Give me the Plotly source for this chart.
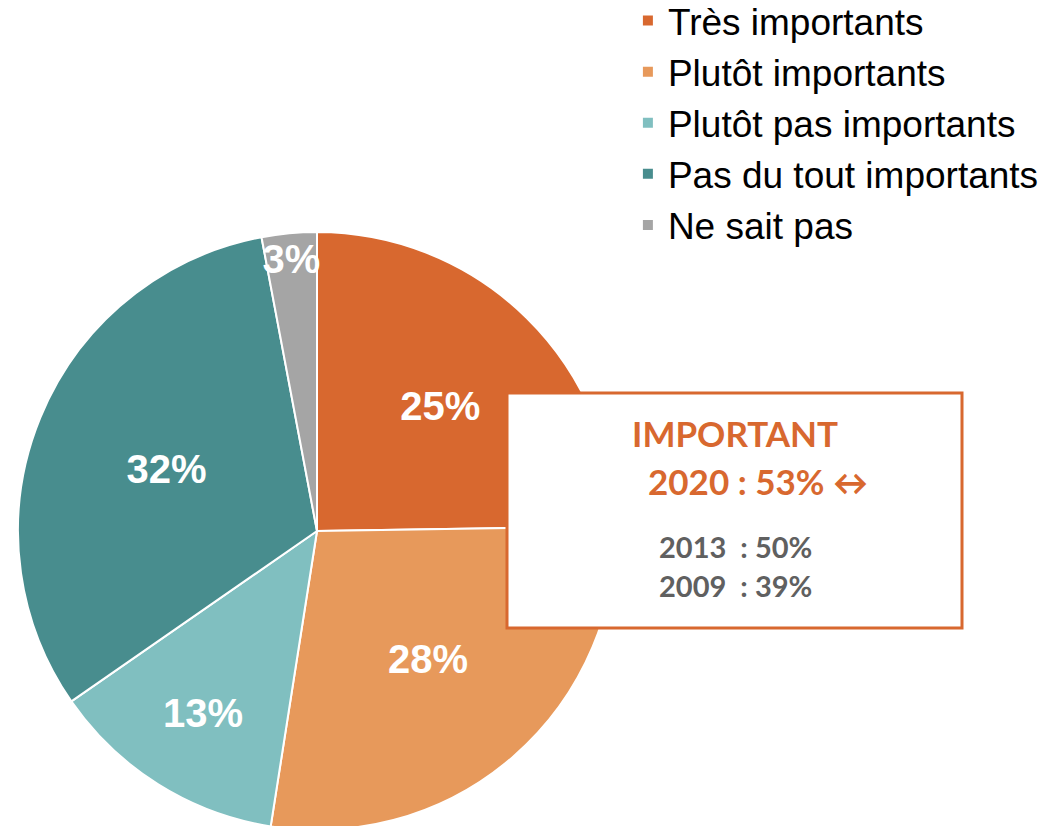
import plotly.graph_objects as go

categories = ["Très importants", "Plutôt importants", "Plutôt pas importants",
              "Pas du tout importants", "Ne sait pas"]
values = [25, 28, 13, 32, 3]
labels_txt = ["25%", "28%", "13%", "32%", "3%"]
colors = ["#D8682F", "#E7995B", "#80BFC0", "#488D8E", "#A5A5A5"]

box_title = "IMPORTANT"
box_main = "2020 : 53% ↔"
box_lines = ["2013\u00a0\u00a0: 50%", "2009\u00a0\u00a0: 39%"]

W, H = 1050, 834
CX, CY, R = 317, 531, 299

fig = go.Figure()
fig.add_trace(go.Pie(
    labels=categories, values=values, text=labels_txt,
    texttemplate="<b>%{text}</b>", textinfo="text",
    sort=False, direction="clockwise", rotation=0,
    marker=dict(colors=colors, line=dict(color="white", width=2)),
    textposition="inside", insidetextorientation="horizontal",
    textfont=dict(family="Liberation Sans, Arial", size=40, color="white"),
    domain=dict(x=[(CX - R) / W, (CX + R) / W],
                y=[max(0, 1 - (CY + R) / H), 1 - (CY - R) / H]),
    hoverinfo="label+text",
))

fig.update_layout(
    width=W, height=H,
    margin=dict(l=0, r=0, t=0, b=0, autoexpand=False),
    paper_bgcolor="white", plot_bgcolor="white",
    uniformtext=dict(minsize=40, mode="show"),
    showlegend=True,
    legend=dict(x=0.598, y=1 + 10 / H, xanchor="left", yanchor="top",
                font=dict(family="Liberation Sans, Arial", size=37, color="black"),
                traceorder="normal", bgcolor="rgba(0,0,0,0)"),
)

# text box
fig.add_shape(type="rect", xref="paper", yref="paper",
              x0=507 / W, x1=962 / W, y0=1 - 628 / H, y1=1 - 393 / H,
              line=dict(color="#D8682F", width=3), fillcolor="white", layer="above")

font_b = "Lato, Open Sans, sans-serif"
def ann(x, y, text, size, color):
    fig.add_annotation(xref="paper", yref="paper", x=x / W, y=1 - y / H,
                       xanchor="center", yanchor="middle",
                       text="<b>%s</b>" % text, showarrow=False,
                       font=dict(family=font_b, size=size, color=color))

ann(735, 433, box_title, 35, "#D8682F")
ann(758, 481, box_main, 35, "#D8682F")
for i, t in enumerate(box_lines):
    ann(735, 546 + 39 * i, t, 29, "#606060")

fig.write_html("out.html", config={"displayModeBar": False},
               post_script="document.body.style.margin='0';document.body.style.overflow='hidden';")
